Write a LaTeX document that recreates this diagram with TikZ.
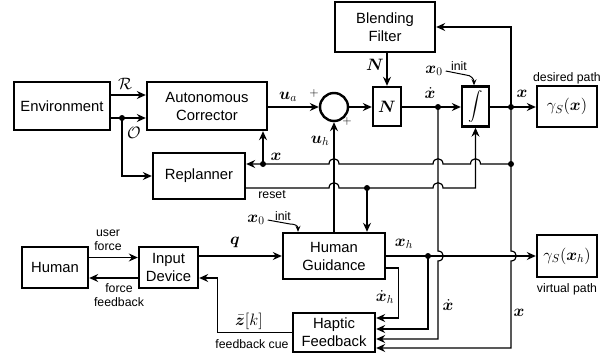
\RequirePackage{fix-cm}
\documentclass[tikz,border=0pt]{standalone}
\usepackage[no-math]{fontspec}
\setmainfont{Liberation Sans}
\usepackage{amsmath,bm}
\usetikzlibrary{arrows.meta}
\newcommand{\boxfont}{\fontsize{14.8}{18}\selectfont}
\newcommand{\symfont}{\fontsize{16.5}{18}\selectfont}
\newcommand{\tagfont}{\fontsize{12.3}{14}\selectfont}
\newcommand{\jumpover}[1]{-- ([xshift=-5pt]#1) .. controls +(0,7pt) and +(0,7pt) .. ([xshift=5pt]#1)}
\newcommand{\jumpdown}[1]{-- ([yshift=5pt]#1) .. controls +(7pt,0) and +(7pt,0) .. ([yshift=-5pt]#1)}
\tikzstyle{block}=[draw, line width=2.4pt, align=center, inner sep=0pt, font=\boxfont]
\tikzstyle{wire}=[line width=1.2pt]
\tikzstyle{sig}=[wire, -{Stealth[length=9pt, width=8pt, inset=3pt]}]
\tikzstyle{back}=[wire, {Stealth[length=9pt, width=8pt, inset=3pt]}-]
\tikzstyle{small sig}=[line width=1pt, -{Stealth[length=6pt, width=5pt, inset=2pt]}]
\tikzstyle{junction}=[circle, fill, inner sep=0pt, minimum size=6pt]
\tikzstyle{math label}=[font=\symfont, inner sep=0pt]
\tikzstyle{tag}=[font=\tagfont, align=center, inner sep=0pt]

\begin{document}
\begin{tikzpicture}[x=1pt, y=-1pt]
          \useasboundingbox (0,0) rectangle (603,356);

          \node[block, minimum width=96, minimum height=48] (env) at (62,106) {Environment};
          \node[block, minimum width=120, minimum height=48] (auto_corr) at (207,106) {Autonomous\\Corrector};
          \node[block, minimum width=92, minimum height=46] (replan) at (199,176) {Replanner};
          \node[block, minimum width=100, minimum height=50] (blend) at (385,27) {Blending\\Filter};
          \node[draw, circle, line width=2.4pt, minimum size=28pt, inner sep=0pt] (sum) at (334,107) {};
          \node[block, font=\symfont, minimum width=28, minimum height=39] (gain) at (387,106.5) {$\bm{N}$};
          \node[block, font=\fontsize{13.5}{15}\selectfont, minimum width=27, minimum height=40] (integ) at (475.5,106.5) {$\displaystyle\int$};
          \node[block, font=\symfont, minimum width=60, minimum height=41] (path_des) at (567,106.5) {$\gamma_S(\bm{x})$};
          \node[block, minimum width=66, minimum height=41] (human) at (55,267.5) {Human};
          \node[block, minimum width=59, minimum height=41] (input) at (168.5,267.5) {Input\\Device};
          \node[block, minimum width=102, minimum height=46] (guid) at (334,256) {Human\\Guidance};
          \node[block, minimum width=82, minimum height=39] (haptic) at (334,332.5) {Haptic\\Feedback};
          \node[block, font=\symfont, minimum width=60, minimum height=42] (path_virt) at (567,256) {$\gamma_S(\bm{x}_h)$};

          \node[junction] (o_split) at (122,118) {};
          \node[junction] (x_split_1) at (263,164) {};
          \node[junction] (reset_split) at (367,188) {};
          \node[junction] (xdot_split) at (438,107) {};
          \node[junction] (x_split) at (511,107) {};
          \node[junction] (x_split_2) at (511,164) {};
          \node[junction] (xh_split) at (428,256) {};

          \draw[sig] ([yshift=11pt]env.east) -- ([yshift=11pt]auto_corr.west);
          \draw[sig] (env.east |- o_split) -- (auto_corr.west |- o_split);
          \draw[sig] (o_split.center) |- (replan.west);
          \draw[sig] (auto_corr.east |- sum) -- (sum.west);
          \draw[sig] (sum.east) -- (sum.east -| gain.west);
          \draw[sig] (gain.north |- blend.south) -- (gain.north);
          \draw[sig] (gain.east |- xdot_split) -- (integ.west |- xdot_split);
          \draw[sig] (integ.east |- x_split) -- (path_des.west |- x_split);
          \draw[sig] (x_split.center) |- (blend.east);
          \draw[sig] (guid.north -| sum) -- (sum.south);

          \draw[back] (replan.east |- x_split_2) \jumpover{sum |- x_split_2} \jumpover{xdot_split |- x_split_2} \jumpover{integ |- x_split_2} -- (x_split_2.center);
          \draw[sig] (x_split_1.center) -- (auto_corr.south -| x_split_1);
          \draw[sig] (replan.east |- reset_split) \jumpover{sum |- reset_split} -- (reset_split.center) \jumpover{xdot_split |- reset_split} -| (integ.south);
          \draw[sig] (reset_split.center) -- (guid.north -| reset_split);

          \draw[sig] (guid.east) -- (path_virt.west);
          \draw[sig] (xh_split.center) |- ([yshift=3.5pt]haptic.east);
          \draw[sig] ([yshift=-12pt]guid.east) -- ++(12,0) |- ([yshift=14.5pt]haptic.east);
          \draw[sig] (xdot_split.center) \jumpdown{xdot_split |- xh_split} |- ([yshift=-6.5pt]haptic.east);
          \draw[sig] (x_split.center) -- (x_split_2.center) \jumpdown{x_split |- xh_split} |- ([yshift=-15.5pt]haptic.east);

          \draw[sig] (input.east |- guid.west) -- (guid.west);
          \draw[sig] ([yshift=10pt]human.east) -- ([yshift=10pt]input.west);
          \draw[sig] ([yshift=-10.5pt]input.west) -- ([yshift=-10.5pt]human.east);
          \draw[sig] (haptic.west) -- ++(-74,0) |- ([yshift=-10.5pt]input.east);

          \node[math label] (x0_integ) at (434,71) {$\bm{x}_0$};
          \node[tag] (init_integ) at (459,66) {init};
          \draw[small sig] ([xshift=3pt]x0_integ.east) -- (466,75) .. controls +(5pt,0) and +(0,6pt) .. ([xshift=-1.5pt]integ.north);
          \node[math label] (x0_guid) at (256,220) {$\bm{x}_0$};
          \node[tag] (init_guid) at (283,216) {init};
          \draw[small sig] ([xshift=3pt]x0_guid.east) -- (290,224) .. controls +(5pt,0) and +(0,6pt) .. ([xshift=-36pt]guid.north);

          \node[math label] (r_lbl) at (125,84) {$\mathcal{R}$};
          \node[math label] (o_lbl) at (134,133) {$\mathcal{O}$};
          \node[math label] (ua_lbl) at (288,97) {$\bm{u}_a$};
          \node[font=\tagfont] (plus_a) at (314,93) {$+$};
          \node[font=\tagfont] (plus_h) at (347,121) {$+$};
          \node[math label] (uh_lbl) at (320,141) {$\bm{u}_h$};
          \node[math label] (n_lbl) at (375,65) {$\bm{N}$};
          \node[math label] (xdot_lbl) at (430,93) {$\dot{\bm{x}}$};
          \node[math label] (x_lbl) at (522,94) {$\bm{x}$};
          \node[tag] (des_lbl) at (567,78) {desired path};
          \node[math label] (x_fb_lbl) at (276,157) {$\bm{x}$};
          \node[tag] (reset_lbl) at (272,195) {reset};
          \node[math label] (q_lbl) at (235,242) {$\bm{q}$};
          \node[math label] (xh_lbl) at (404,244) {$\bm{x}_h$};
          \node[tag] (virt_lbl) at (567,289) {virtual path};
          \node[math label] (xhdot_lbl) at (385,297) {$\dot{\bm{x}}_h$};
          \node[math label] (xdot_hap_lbl) at (448,305) {$\dot{\bm{x}}$};
          \node[math label] (x_hap_lbl) at (519,313) {$\bm{x}$};
          \node[tag] (user_lbl) at (108,240) {user\\force};
          \node[tag] (ffb_lbl) at (119,295) {force\\feedback};
          \node[math label] (cue_lbl) at (249,321) {$\bar{\bm{z}}[k]$};
          \node[tag] (cue_txt) at (252,344) {feedback cue};
        \end{tikzpicture}
\end{document}
